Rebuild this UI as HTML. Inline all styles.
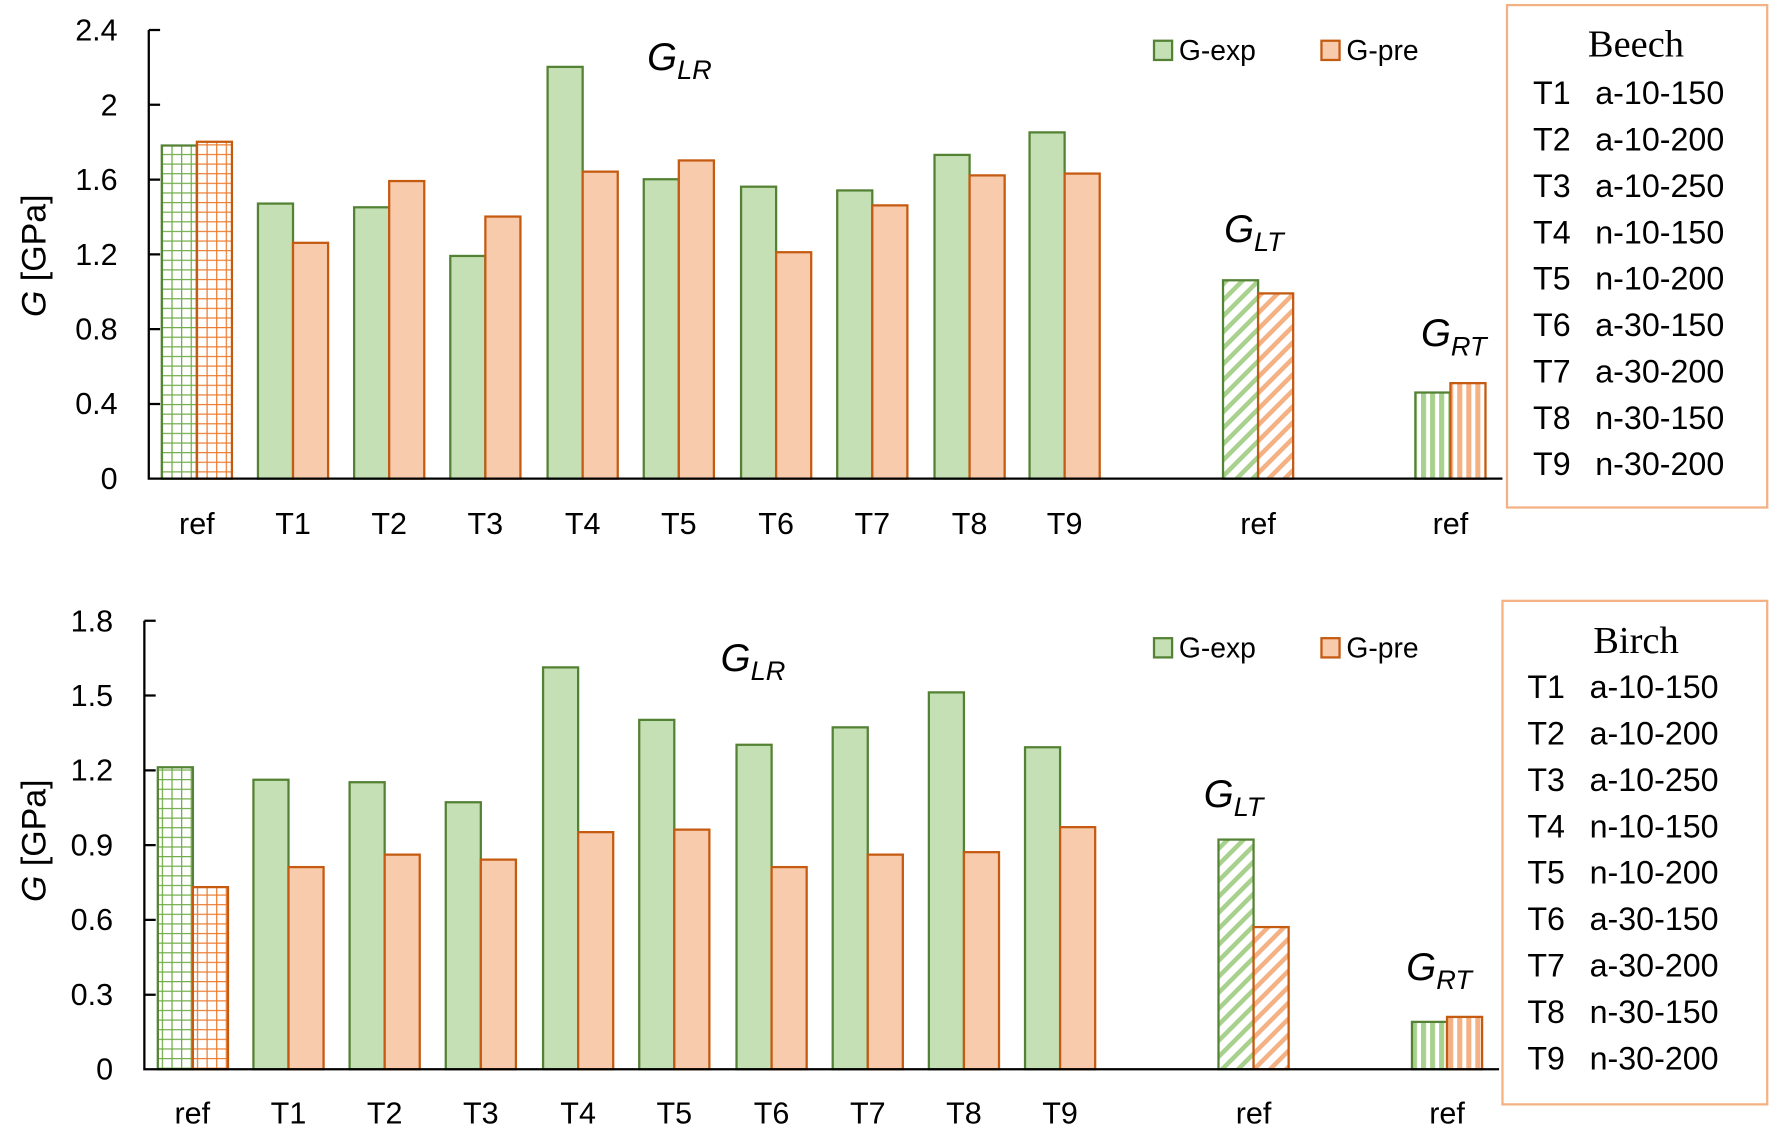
<!DOCTYPE html>
<html><head><meta charset="utf-8"><style>
html,body{margin:0;padding:0;background:#fff;}
svg{display:block;}
text{font-family:"Liberation Sans",sans-serif;fill:#000;}
.t{font-size:27px;}
.r{font-size:28.5px;}
.s{font-family:"Liberation Serif",serif;font-size:34px;}
.g{font-style:italic;font-size:34px;}
.sub{font-style:italic;font-size:24px;}
.lg{font-size:25px;}
</style></head><body>
<svg width="1774" height="1127" viewBox="0 0 1568 996" preserveAspectRatio="none" xmlns="http://www.w3.org/2000/svg">
<defs>
<pattern id="gg" width="8.5" height="8.5" patternUnits="userSpaceOnUse" x="143" y="0"><rect width="8.5" height="8.5" fill="#fff"/><path d="M0 0H8.5M0 0V8.5" stroke="#70ad47" stroke-width="2.2"/></pattern>
<pattern id="og" width="8.5" height="8.5" patternUnits="userSpaceOnUse" x="174" y="0"><rect width="8.5" height="8.5" fill="#fff"/><path d="M0 0H8.5M0 0V8.5" stroke="#ed7d31" stroke-width="2.2"/></pattern>
<pattern id="gd" width="10" height="10" patternUnits="userSpaceOnUse" patternTransform="rotate(45)"><rect width="10" height="10" fill="#fff"/><rect width="4" height="10" fill="#a9d18e"/></pattern>
<pattern id="od" width="10" height="10" patternUnits="userSpaceOnUse" patternTransform="rotate(45)"><rect width="10" height="10" fill="#fff"/><rect width="4" height="10" fill="#f4b183"/></pattern>
<pattern id="gv" width="8" height="10" patternUnits="userSpaceOnUse"><rect width="8" height="10" fill="#fff"/><rect width="4.5" height="10" fill="#a9d18e"/></pattern>
<pattern id="ov" width="8" height="10" patternUnits="userSpaceOnUse"><rect width="8" height="10" fill="#fff"/><rect width="4.5" height="10" fill="#f4b183"/></pattern>
</defs>
<g stroke-width="2">
<g stroke="#548235" fill="#c5e0b4">
<rect x="143" y="128.6" width="31" height="294.4" fill="url(#gg)"/>
<rect x="228" y="179.9" width="31" height="243.1"/>
<rect x="313" y="183.2" width="31" height="239.8"/>
<rect x="398" y="226.2" width="31" height="196.8"/>
<rect x="484" y="59.1" width="31" height="363.9"/>
<rect x="569" y="158.4" width="31" height="264.6"/>
<rect x="655" y="165" width="31" height="258"/>
<rect x="740" y="168.3" width="31" height="254.7"/>
<rect x="826" y="136.9" width="31" height="286.1"/>
<rect x="910" y="117" width="31" height="306"/>
<rect x="1081" y="247.7" width="31" height="175.3" fill="url(#gd)"/>
<rect x="1251" y="346.9" width="31" height="76.1" fill="url(#gv)"/>
</g>
<g stroke="#c55a11" fill="#f8cbad">
<rect x="174" y="125.3" width="31" height="297.7" fill="url(#og)"/>
<rect x="259" y="214.6" width="31" height="208.4"/>
<rect x="344" y="160" width="31" height="263"/>
<rect x="429" y="191.4" width="31" height="231.6"/>
<rect x="515" y="151.7" width="31" height="271.3"/>
<rect x="600" y="141.8" width="31" height="281.2"/>
<rect x="686" y="222.9" width="31" height="200.1"/>
<rect x="771" y="181.5" width="31" height="241.5"/>
<rect x="857" y="155" width="31" height="268"/>
<rect x="941" y="153.4" width="31" height="269.6"/>
<rect x="1112" y="259.3" width="31" height="163.7" fill="url(#od)"/>
<rect x="1282" y="338.6" width="31" height="84.4" fill="url(#ov)"/>
</g>
<g stroke="#548235" fill="#c5e0b4">
<rect x="139.5" y="678.1" width="31" height="266.9" fill="url(#gg)"/>
<rect x="224" y="689.1" width="31" height="255.9"/>
<rect x="309" y="691.3" width="31" height="253.7"/>
<rect x="394" y="709" width="31" height="236"/>
<rect x="480" y="589.8" width="31" height="355.2"/>
<rect x="565" y="636.2" width="31" height="308.8"/>
<rect x="651" y="658.2" width="31" height="286.8"/>
<rect x="736" y="642.8" width="31" height="302.2"/>
<rect x="821" y="611.9" width="31" height="333.1"/>
<rect x="906" y="660.4" width="31" height="284.6"/>
<rect x="1077" y="742" width="31" height="203" fill="url(#gd)"/>
<rect x="1248" y="903.1" width="31" height="41.9" fill="url(#gv)"/>
</g>
<g stroke="#c55a11" fill="#f8cbad">
<rect x="170.5" y="784" width="31" height="161" fill="url(#og)"/>
<rect x="255" y="766.3" width="31" height="178.7"/>
<rect x="340" y="755.3" width="31" height="189.7"/>
<rect x="425" y="759.7" width="31" height="185.3"/>
<rect x="511" y="735.4" width="31" height="209.6"/>
<rect x="596" y="733.2" width="31" height="211.8"/>
<rect x="682" y="766.3" width="31" height="178.7"/>
<rect x="767" y="755.3" width="31" height="189.7"/>
<rect x="852" y="753.1" width="31" height="191.9"/>
<rect x="937" y="731" width="31" height="214"/>
<rect x="1108" y="819.3" width="31" height="125.7" fill="url(#od)"/>
<rect x="1279" y="898.7" width="31" height="46.3" fill="url(#ov)"/>
</g>
</g>
<g stroke="#000" stroke-width="2" fill="none">
<path d="M131.5 26.5V423H1328"/>
<path d="M131.5 26.5h10M131.5 92.6h10M131.5 158.7h10M131.5 224.8h10M131.5 290.9h10M131.5 357h10"/>
<path d="M127.6 548.6V945H1325"/>
<path d="M127.6 548.6h10M127.6 614.7h10M127.6 680.8h10M127.6 746.9h10M127.6 813h10M127.6 879.1h10"/>
</g>
<g class="t" text-anchor="end">
<text x="104" y="36">2.4</text><text x="104" y="102">2</text><text x="104" y="168">1.6</text><text x="104" y="234">1.2</text><text x="104" y="300">0.8</text><text x="104" y="366">0.4</text><text x="104" y="432">0</text>
<text x="100" y="558">1.8</text><text x="100" y="624">1.5</text><text x="100" y="690">1.2</text><text x="100" y="756">0.9</text><text x="100" y="822">0.6</text><text x="100" y="888">0.3</text><text x="100" y="954">0</text>
</g>
<g class="t" text-anchor="middle">
<text x="174" y="472">ref</text><text x="259" y="472">T1</text><text x="344" y="472">T2</text><text x="429" y="472">T3</text><text x="515" y="472">T4</text><text x="600" y="472">T5</text><text x="686" y="472">T6</text><text x="771" y="472">T7</text><text x="857" y="472">T8</text><text x="941" y="472">T9</text><text x="1112" y="472">ref</text><text x="1282" y="472">ref</text>
<text x="170" y="993">ref</text><text x="255" y="993">T1</text><text x="340" y="993">T2</text><text x="425" y="993">T3</text><text x="511" y="993">T4</text><text x="596" y="993">T5</text><text x="682" y="993">T6</text><text x="767" y="993">T7</text><text x="852" y="993">T8</text><text x="937" y="993">T9</text><text x="1108" y="993">ref</text><text x="1279" y="993">ref</text>
</g>
<text class="t" style="font-size:30px" transform="translate(40,226) rotate(-90)" text-anchor="middle"><tspan font-style="italic">G</tspan> [GPa]</text>
<text class="t" style="font-size:30px" transform="translate(40,743) rotate(-90)" text-anchor="middle"><tspan font-style="italic">G</tspan> [GPa]</text>
<text x="572" y="62" class="g">G<tspan class="sub" dy="8">LR</tspan></text>
<text x="1082" y="214" class="g">G<tspan class="sub" dy="8">LT</tspan></text>
<text x="1256" y="306" class="g">G<tspan class="sub" dy="8">RT</tspan></text>
<text x="637" y="593" class="g">G<tspan class="sub" dy="8">LR</tspan></text>
<text x="1064" y="713" class="g">G<tspan class="sub" dy="8">LT</tspan></text>
<text x="1243" y="866" class="g">G<tspan class="sub" dy="8">RT</tspan></text>
<rect x="1020" y="36" width="16" height="17" fill="#c5e0b4" stroke="#548235" stroke-width="2"/><text x="1042" y="53" class="lg">G-exp</text>
<rect x="1168" y="36" width="16" height="17" fill="#f8cbad" stroke="#c55a11" stroke-width="2"/><text x="1190" y="53" class="lg">G-pre</text>
<rect x="1020" y="564" width="16" height="17" fill="#c5e0b4" stroke="#548235" stroke-width="2"/><text x="1042" y="581" class="lg">G-exp</text>
<rect x="1168" y="564" width="16" height="17" fill="#f8cbad" stroke="#c55a11" stroke-width="2"/><text x="1190" y="581" class="lg">G-pre</text>
<rect x="1332" y="4.5" width="230" height="444" fill="none" stroke="#f4b183" stroke-width="2"/>
<rect x="1328" y="531" width="234" height="445" fill="none" stroke="#f4b183" stroke-width="2"/>
<text x="1446" y="50" class="s" text-anchor="middle">Beech</text>
<g class="r">
<text x="1355" y="92">T1</text><text x="1410" y="92">a-10-150</text>
<text x="1355" y="133">T2</text><text x="1410" y="133">a-10-200</text>
<text x="1355" y="174">T3</text><text x="1410" y="174">a-10-250</text>
<text x="1355" y="215">T4</text><text x="1410" y="215">n-10-150</text>
<text x="1355" y="256">T5</text><text x="1410" y="256">n-10-200</text>
<text x="1355" y="297">T6</text><text x="1410" y="297">a-30-150</text>
<text x="1355" y="338">T7</text><text x="1410" y="338">a-30-200</text>
<text x="1355" y="379">T8</text><text x="1410" y="379">n-30-150</text>
<text x="1355" y="420">T9</text><text x="1410" y="420">n-30-200</text>
</g>
<text x="1446" y="577" class="s" text-anchor="middle">Birch</text>
<g class="r">
<text x="1350" y="617">T1</text><text x="1405" y="617">a-10-150</text>
<text x="1350" y="658">T2</text><text x="1405" y="658">a-10-200</text>
<text x="1350" y="699">T3</text><text x="1405" y="699">a-10-250</text>
<text x="1350" y="740">T4</text><text x="1405" y="740">n-10-150</text>
<text x="1350" y="781">T5</text><text x="1405" y="781">n-10-200</text>
<text x="1350" y="822">T6</text><text x="1405" y="822">a-30-150</text>
<text x="1350" y="863">T7</text><text x="1405" y="863">a-30-200</text>
<text x="1350" y="904">T8</text><text x="1405" y="904">n-30-150</text>
<text x="1350" y="945">T9</text><text x="1405" y="945">n-30-200</text>
</g>
</svg>
</body></html>
